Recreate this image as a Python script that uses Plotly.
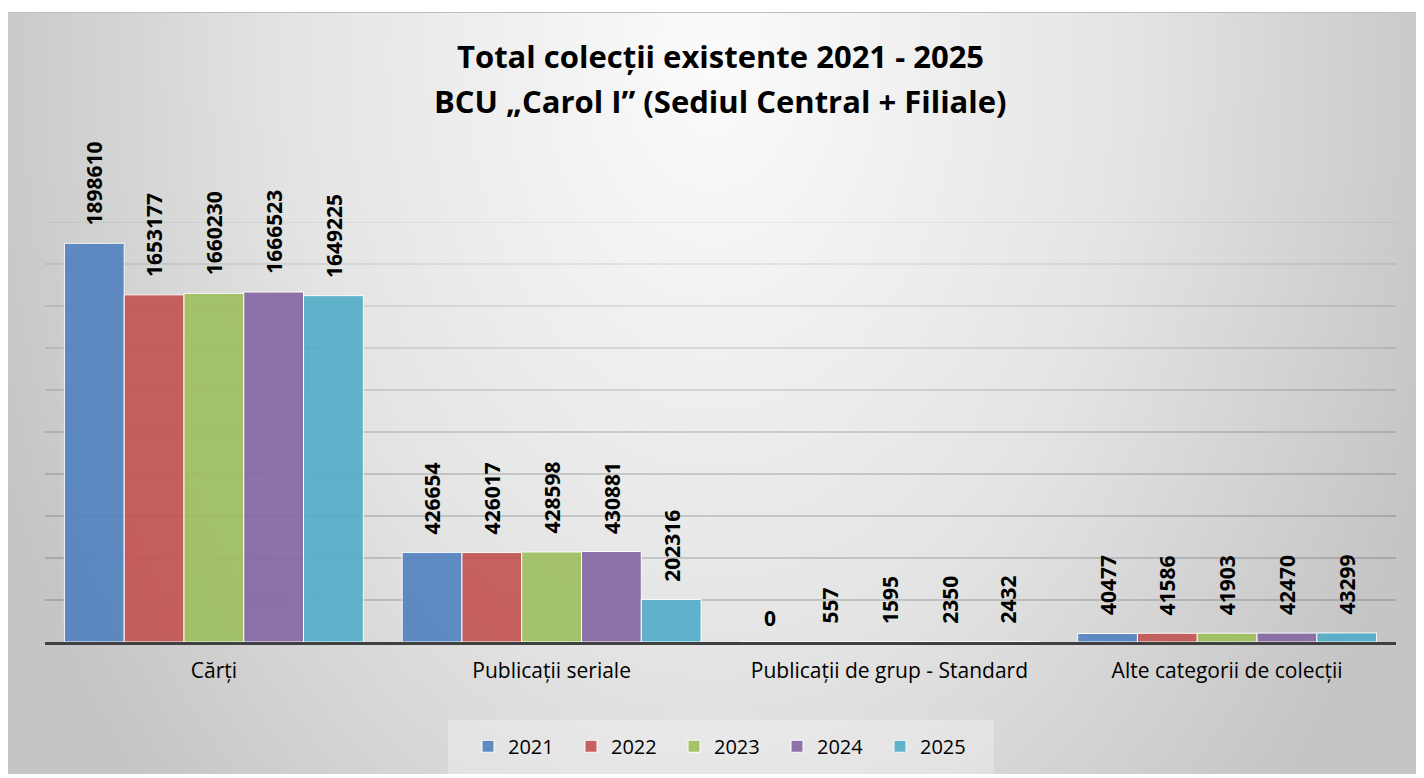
import base64
import plotly.graph_objects as go

categories = ["Cărți", "Publicații seriale", "Publicații de grup - Standard", "Alte categorii de colecții"]
years = ["2021", "2022", "2023", "2024", "2025"]
values_2021 = [1898610, 426654, 0, 40477]
values_2022 = [1653177, 426017, 557, 41586]
values_2023 = [1660230, 428598, 1595, 41903]
values_2024 = [1666523, 430881, 2350, 42470]
values_2025 = [1649225, 202316, 2432, 43299]
series = [values_2021, values_2022, values_2023, values_2024, values_2025]
colors = ["#5182bf", "#c25351", "#9ebf5d", "#8567a5", "#52adc8"]
title_lines = ["Total colecții existente 2021 - 2025", "BCU „Carol I” (Sediul Central + Filiale)"]

# the page body has an 8px margin; figure sized to fit the window
OFF = 8
W, H = 1416, 770
L, R, T, B = 37, 28, 214, 133
PW, PH = W - L - R, H - T - B
FONT = "Open Sans"
BARGAP = 0.115

def px_x(wx):  # window pixel -> paper x
    return (wx - OFF - L) / PW

def px_y(wy):  # window pixel -> paper y
    return (H - B - (wy - OFF)) / PH

fig = go.Figure()
for yr, vals, col in zip(years, series, colors):
    fig.add_trace(go.Bar(
        x=list(range(len(categories))), y=vals, name=yr,
        marker=dict(color=col, line=dict(color="white", width=1)),
        opacity=0.9, hoverinfo="skip",
    ))

# data labels
n = len(years)
bw = (1 - BARGAP) / n
annotations = []
for j, vals in enumerate(series):
    for i, v in enumerate(vals):
        annotations.append(dict(
            x=i + (j - (n - 1) / 2) * bw, y=v, xref="x", yref="y",
            text=str(v), showarrow=False, textangle=0 if v == 0 else -90,
            yanchor="bottom", xanchor="center", yshift=8 if v == 0 else 16,
            font=dict(family=FONT, size=21, color="black", weight="bold"),
        ))

# title lines
for txt, wy in zip(title_lines, [55, 100]):
    annotations.append(dict(
        x=px_x(720), y=px_y(wy), xref="paper", yref="paper", text="<b>" + txt + "</b>",
        showarrow=False, xanchor="center", yanchor="middle",
        font=dict(family=FONT, size=31, color="black"),
    ))

# background gradient as svg image
BGW, BGH = W, H - 3
svg = f'''<svg xmlns="http://www.w3.org/2000/svg" width="{BGW}" height="{BGH}" viewBox="0 0 {BGW} {BGH}">
<defs><radialGradient id="g" gradientUnits="userSpaceOnUse" cx="0" cy="0" r="1" gradientTransform="translate(704 45) scale(760 1100)">
<stop offset="0" stop-color="#fbfbfb"/><stop offset="0.55" stop-color="#e4e4e4"/><stop offset="1" stop-color="#c5c5c5"/></radialGradient></defs>
<rect x="0" y="0" width="{BGW}" height="{BGH}" fill="url(#g)"/></svg>'''
src = "data:image/svg+xml;base64," + base64.b64encode(svg.encode()).decode()

shapes = []
# gridlines (fading upwards)
for gv in range(200000, 2000001, 200000):
    a = 0.30 if gv <= 800000 else max(0.10, 0.30 - (gv - 800000) / 1200000 * 0.2)
    shapes.append(dict(type="line", xref="paper", yref="y", x0=0, x1=1, y0=gv, y1=gv,
                       line=dict(color=f"rgba(0,0,0,{a:.3f})", width=1), layer="below"))
# legend box
shapes.append(dict(type="rect", xref="paper", yref="paper", x0=px_x(448), x1=px_x(994),
                   y0=px_y(778), y1=px_y(723), fillcolor="rgba(255,255,255,0.28)",
                   line=dict(width=0), layer="below"))
# top border line
shapes.append(dict(type="line", xref="paper", yref="paper", x0=px_x(8), x1=px_x(1424),
                   y0=px_y(11), y1=px_y(11), line=dict(color="#bdbdbd", width=1), layer="below"))

fig.update_layout(
    width=W, height=H,
    margin=dict(l=L, r=R, t=T, b=B, pad=0),
    paper_bgcolor="white", plot_bgcolor="rgba(0,0,0,0)",
    barmode="group", bargap=BARGAP, bargroupgap=0,
    showlegend=True,
    legend=dict(orientation="h", x=0.5 + 5 / PW, xanchor="center", y=px_y(750), yanchor="middle",
                font=dict(family=FONT, size=20, color="black"), bgcolor="rgba(0,0,0,0)",
                entrywidth=58, traceorder="normal"),
    images=[dict(source=src, xref="paper", yref="paper", x=px_x(8), y=px_y(11),
                 sizex=BGW / PW, sizey=BGH / PH, sizing="stretch",
                 xanchor="left", yanchor="top", layer="below")],
    shapes=shapes,
    annotations=annotations,
    xaxis=dict(tickmode="array", tickvals=list(range(len(categories))), ticktext=categories,
               range=[-0.5, len(categories) - 0.5], showgrid=False, zeroline=False,
               showline=True, linecolor="#404040", linewidth=3, ticks="",
               ticklabelstandoff=8,
               tickfont=dict(family=FONT, size=21, color="black"), fixedrange=True),
    yaxis=dict(range=[0, 2000000], showgrid=False, zeroline=False, showticklabels=False,
               showline=False, fixedrange=True),
)

fig.write_html("out.html")
